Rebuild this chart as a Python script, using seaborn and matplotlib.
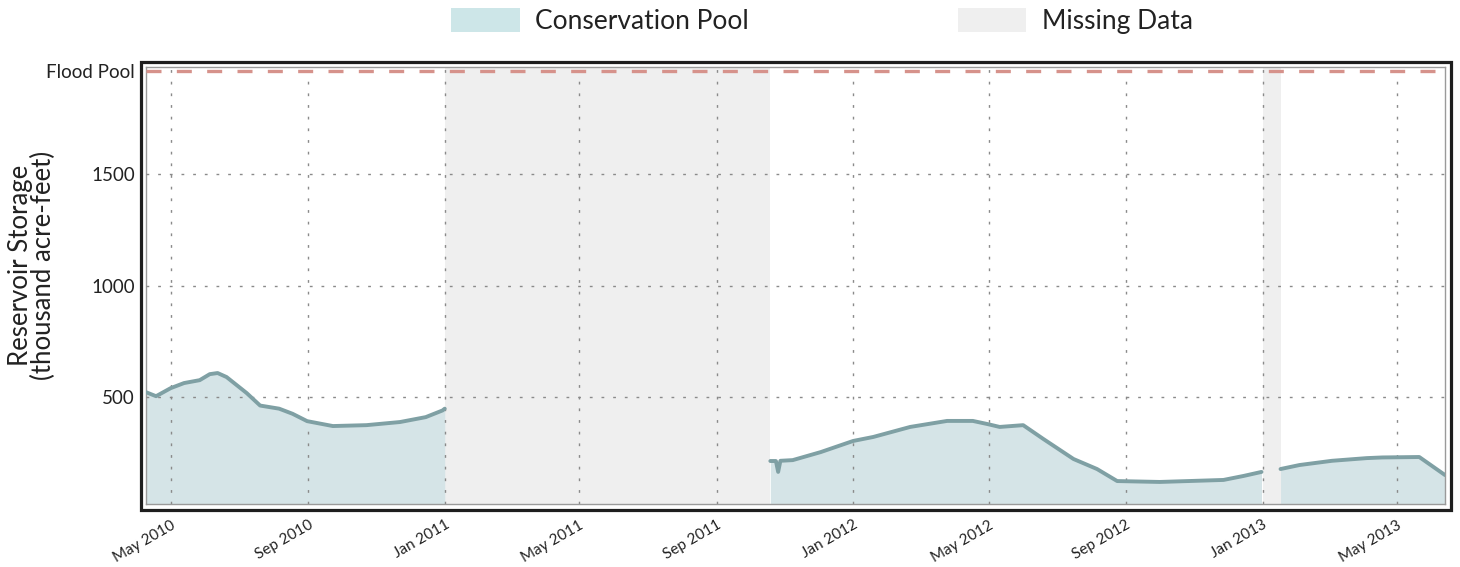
import matplotlib
matplotlib.use("Agg")
import pandas as pd
import matplotlib.pyplot as plt
import seaborn as sns
from matplotlib.patches import Patch, Rectangle

# storage readings (thousand acre-feet), three recorded stretches
seg1_dates = ["2010-04-09", "2010-04-18", "2010-05-01", "2010-05-13", "2010-05-27",
              "2010-06-05", "2010-06-12", "2010-06-20", "2010-07-08", "2010-07-20",
              "2010-08-06", "2010-08-18", "2010-08-31", "2010-09-23", "2010-10-23",
              "2010-11-22", "2010-12-15", "2010-12-30", "2011-01-01"]
seg1_storage = [522, 504, 540, 563, 576, 603, 608, 590, 518, 462,
                448, 425, 392, 370, 374, 388, 410, 440, 448]

seg2_dates = ["2011-10-19", "2011-10-24", "2011-10-26", "2011-10-28", "2011-11-08",
              "2011-12-03", "2012-01-01", "2012-01-19", "2012-02-21", "2012-03-25",
              "2012-04-17", "2012-04-30", "2012-05-11", "2012-06-01", "2012-06-19",
              "2012-07-16", "2012-08-06", "2012-08-24", "2012-10-01", "2012-11-27",
              "2012-12-15", "2012-12-31"]
seg2_storage = [213, 213, 164, 214, 217, 253, 303, 321, 366, 393,
                393, 379, 366, 374, 312, 222, 177, 123, 119, 128,
                146, 164]

seg3_dates = ["2013-01-17", "2013-02-03", "2013-03-04", "2013-04-04", "2013-04-18",
              "2013-05-21", "2013-06-13"]
seg3_storage = [177, 195, 214, 226, 229, 231, 150]

flood_pool = 1964
missing_spans = [("2011-01-01", "2011-10-19"), ("2013-01-01", "2013-01-17")]

tick_dates = ["2010-05-01", "2010-09-01", "2011-01-01", "2011-05-01", "2011-09-01",
              "2012-01-01", "2012-05-01", "2012-09-01", "2013-01-01", "2013-05-01"]
tick_labels = ["May 2010", "Sep 2010", "Jan 2011", "May 2011", "Sep 2011",
               "Jan 2012", "May 2012", "Sep 2012", "Jan 2013", "May 2013"]

fill_col = "#d5e4e7"
line_col = "#7fa0a4"

sns.set_style("white")
plt.rcParams["font.family"] = ["Lato", "DejaVu Sans"]

W, H = 1460, 567
fig = plt.figure(figsize=(W / 100, H / 100), dpi=100)
ax = fig.add_axes([146 / W, 1 - 504 / H, (1445 - 146) / W, (504 - 67) / H])

for start, end in missing_spans:
    ax.axvspan(pd.Timestamp(start), pd.Timestamp(end), color="#efefef", lw=0, zorder=0)

for dates, vals in [(seg1_dates, seg1_storage), (seg2_dates, seg2_storage),
                    (seg3_dates, seg3_storage)]:
    df = pd.DataFrame({"date": pd.to_datetime(dates), "storage": vals})
    ax.fill_between(df["date"], 0, df["storage"], color=fill_col, lw=0, zorder=1)
    sns.lineplot(data=df, x="date", y="storage", ax=ax, color=line_col, lw=2.8,
                 zorder=3)

ax.axhline(flood_pool, color="#d6928b", lw=2.4, dashes=(4.5, 4.6), zorder=4)

ax.set_xlim(pd.Timestamp("2010-04-09"), pd.Timestamp("2013-06-13"))
ax.set_ylim(20, 1982)
ax.set_xlabel("")

ax.set_xticks(pd.to_datetime(tick_dates))
ax.set_xticklabels(tick_labels, rotation=30, ha="right", rotation_mode="anchor",
                   fontsize=11, color="#222222")
ax.set_yticks([500, 1000, 1500, flood_pool])
ax.set_yticklabels(["500", "1000", "1500", "Flood Pool"], fontsize=13.5, color="#222222")
ax.tick_params(axis="both", length=0)
ax.tick_params(axis="y", pad=8)
ax.tick_params(axis="x", pad=10)

ax.set_axisbelow(False)
ax.grid(True, color="#8a8a8a", lw=1, linestyle=(0, (2, 6.4)))
ax.yaxis.get_gridlines()[-1].set_visible(False)

for sp in ax.spines.values():
    sp.set_color("#9a9a9a")
    sp.set_linewidth(1)

# outer black frame around the plot area
fig.add_artist(Rectangle((141 / W, 1 - 510 / H), (1451 - 141) / W,
                         (510 - 62) / H, transform=fig.transFigure, fill=False,
                         ec="#1e1e1e", lw=2.3))

ax.set_ylabel("Reservoir Storage\n(thousand acre-feet)", fontsize=18.5, color="#222222",
              linespacing=0.9)
ax.yaxis.set_label_coords(-0.069, 0.545)

handles = [Patch(fc="#cde6e8", ec="none", label="Conservation Pool"),
           Patch(fc="#efefef", ec="none", label="Missing Data")]
fig.legend(handles=handles, loc="center", bbox_to_anchor=(0.563, 0.963), ncol=2,
           frameon=False, fontsize=19, handlelength=2.6, handleheight=1.0,
           handletextpad=0.6, columnspacing=7.9, labelcolor="#222222")

fig.savefig("out.png", dpi=100)
